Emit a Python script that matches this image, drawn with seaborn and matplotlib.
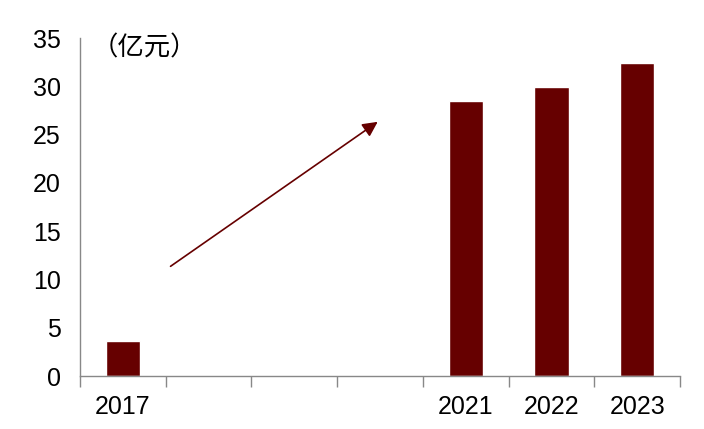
import numpy as np
import pandas as pd
import matplotlib
matplotlib.use("Agg")
import matplotlib.pyplot as plt
import seaborn as sns

years = ["2017", "2018", "2019", "2020", "2021", "2022", "2023"]
tick_labels = ["2017", "", "", "", "2021", "2022", "2023"]
values = [3.6, np.nan, np.nan, np.nan, 28.5, 29.9, 32.4]
unit = "（亿元）"

df = pd.DataFrame({"year": years, "value": values})

sns.set_style("white")
plt.rcParams["font.family"] = ["Liberation Sans", "Noto Sans CJK SC", "DejaVu Sans"]

fig = plt.figure(figsize=(7.04, 4.29), dpi=100)
ax = fig.add_axes([0.1136, 0.1235, 0.8523, 0.7875])

sns.barplot(data=df, x="year", y="value", order=years, color="#660000",
            width=0.4, saturation=1, ax=ax)

ax.set_xlim(-0.5, 6.5)
ax.set_ylim(0, 35)
ax.set_yticks(range(0, 36, 5))
ax.set_xticks(range(len(years)))
ax.set_xticklabels(tick_labels)
ax.set_xticks(np.arange(-0.5, 7, 1), minor=True)
ax.tick_params(axis="x", which="major", length=0, pad=14, labelsize=18,
               labelcolor="black")
ax.tick_params(axis="x", which="minor", bottom=True, length=8, width=1,
               color="#888888", direction="out")
ax.tick_params(axis="y", length=0, pad=14, labelsize=18, labelcolor="black")
ax.set_xlabel("")
ax.set_ylabel("")

for s in ["top", "right"]:
    ax.spines[s].set_visible(False)
for s in ["left", "bottom"]:
    ax.spines[s].set_color("#888888")
    ax.spines[s].set_linewidth(1)

ax.text(0.02, 0.97, unit, transform=ax.transAxes, fontsize=19,
        va="center", ha="left", color="black",
        family=["Noto Sans CJK SC", "DejaVu Sans"])

ax.annotate("", xy=(3.0, 26.5), xytext=(0.53, 11.2),
            arrowprops=dict(arrowstyle="-|>,head_length=0.9,head_width=0.45",
                            color="#660000", lw=1.2))

fig.savefig("out.png", dpi=100)
